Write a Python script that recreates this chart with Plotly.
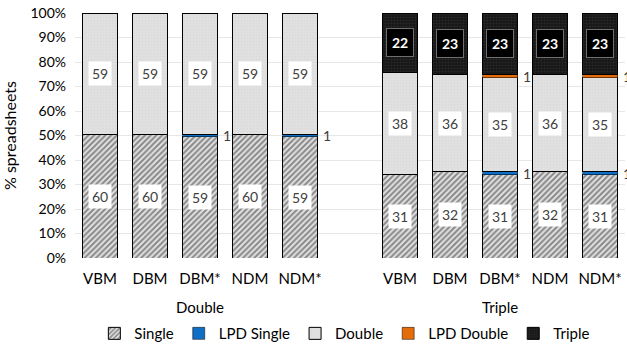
import plotly.graph_objects as go

methods = ["VBM", "DBM", "DBM*", "NDM", "NDM*"]
groups = ["Double", "Triple"]

single = [60, 60, 59, 60, 59, 31, 32, 31, 32, 31]
lpd_single = [0, 0, 1, 0, 1, 0, 0, 1, 0, 1]
double = [59, 59, 59, 59, 59, 38, 36, 35, 36, 35]
lpd_double = [0, 0, 0, 0, 0, 0, 0, 1, 0, 1]
triple = [0, 0, 0, 0, 0, 22, 23, 23, 23, 23]

series_names = ["Single", "LPD Single", "Double", "LPD Double", "Triple"]
series_vals = [single, lpd_single, double, lpd_double, triple]

# x positions: two groups of five with one empty slot between
xpos = [0, 1, 2, 3, 4, 6, 7, 8, 9, 10]
totals = [sum(v[i] for v in series_vals) for i in range(len(xpos))]
pct = [[v[i] / totals[i] * 100 for i in range(len(xpos))] for v in series_vals]

FONT = "Lato"
TXT = "#404040"
BW = 0.7

styles = {
    "Single": dict(color="#d9d9d9", lw=1, pattern=dict(shape="/", fgcolor="#2e2e2e", bgcolor="#e2e2e2", size=4, solidity=0.5)),
    "LPD Single": dict(color="#0f6fc6", lw=0.5),
    "Double": dict(color="#dcdcdc", lw=1, pattern=dict(shape=".", fgcolor="#cfcfcf", bgcolor="#e0e0e0", size=3, solidity=0.2)),
    "LPD Double": dict(color="#e46c0a", lw=0.5),
    "Triple": dict(color="#1a1a1a", lw=1, pattern=dict(shape=".", fgcolor="#3c3c3c", bgcolor="#161616", size=3, solidity=0.35)),
}

fig = go.Figure()
for name, p in zip(series_names, pct):
    st = styles[name]
    marker = dict(color=st["color"], line=dict(color="#000000", width=st["lw"]))
    if "pattern" in st:
        marker["pattern"] = st["pattern"]
    fig.add_trace(go.Bar(name=name, x=xpos, y=p, width=BW, marker=marker,
                         hoverinfo="skip"))

annotations = []
for i, x in enumerate(xpos):
    base = 0
    for name, vals, p in zip(series_names, series_vals, pct):
        v = vals[i]
        h = p[i]
        mid = base + h / 2
        if v > 0:
            if name.startswith("LPD"):
                annotations.append(dict(x=x + BW / 2, y=mid, xref="x", yref="y", text=str(v),
                                        showarrow=False, xanchor="left", xshift=3,
                                        font=dict(family=FONT, size=14, color=TXT)))
            elif name == "Triple":
                annotations.append(dict(x=x, y=mid, xref="x", yref="y", text="<b>%d</b>" % v,
                                        showarrow=False, bgcolor="#000000", bordercolor="#6e6e6e",
                                        borderwidth=1, borderpad=5,
                                        font=dict(family=FONT, size=14, color="#ffffff")))
            else:
                annotations.append(dict(x=x, y=mid, xref="x", yref="y", text=str(v),
                                        showarrow=False, bgcolor="#ffffff", borderpad=3,
                                        font=dict(family=FONT, size=14, color=TXT)))
        base += h

for g, gx in zip(groups, [2, 8]):
    annotations.append(dict(x=gx, y=0, xref="x", yref="paper", text=g, showarrow=False,
                            yanchor="top", yshift=-38, font=dict(family=FONT, size=15, color="#000000")))

fig.update_layout(
    width=627, height=345,
    margin=dict(l=75, r=2, t=13, b=87, autoexpand=False),
    paper_bgcolor="#ffffff", plot_bgcolor="#ffffff",
    barmode="stack", bargap=0.3,
    font=dict(family=FONT, size=14, color=TXT),
    showlegend=True,
    legend=dict(orientation="h", x=0.55, xanchor="center", xref="container",
                y=0.033, yanchor="middle", yref="container",
                font=dict(family=FONT, size=15, color="#000000"), traceorder="normal",
                itemwidth=30, tracegroupgap=0),
    annotations=annotations,
)
fig.update_xaxes(range=[-0.5, 10.5], tickvals=xpos, ticktext=methods + methods,
                 showgrid=False, zeroline=False, showline=False, ticks="",
                 automargin=False, ticklabelstandoff=10,
                 tickfont=dict(family=FONT, size=15, color="#000000"))
fig.update_yaxes(range=[0, 100], dtick=10, ticksuffix="%", showgrid=True,
                 gridcolor="#e6e6e6", gridwidth=1, zeroline=False, showline=False,
                 automargin=False, ticklabelstandoff=8, ticklabeloverflow="allow",
                 tickfont=dict(family=FONT, size=14, color="#000000"),
                 title=dict(text="% spreadsheets", font=dict(family=FONT, size=16, color="#000000"),
                            standoff=10))

fig.write_html("out.html", config={"displayModeBar": False},
               post_script="document.body.style.margin='0';document.body.style.overflow='hidden';")
